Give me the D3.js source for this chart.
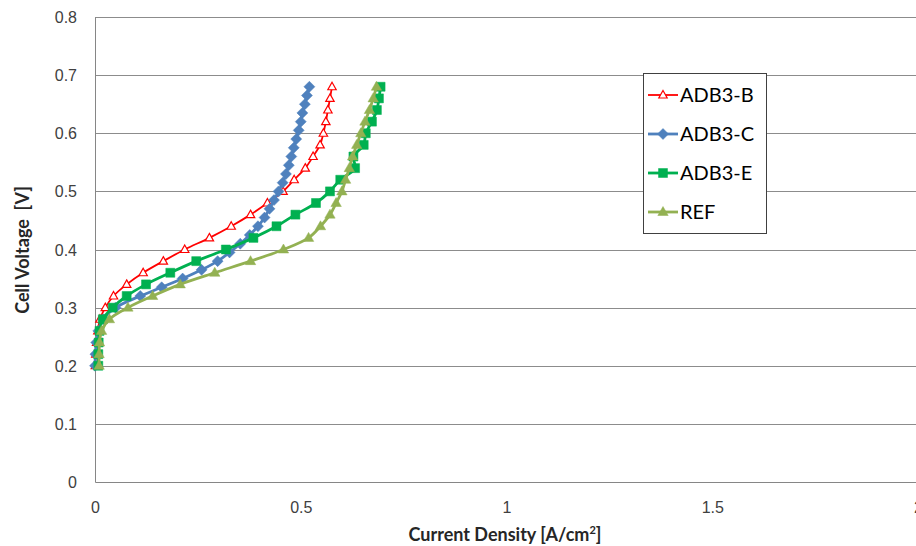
<!DOCTYPE html>
<html>
<head>
<meta charset="utf-8">
<script src="https://cdn.jsdelivr.net/npm/d3@7"></script>
<style>
  body { margin: 0; background: #fff; }
  svg { display: block; font-family: Lato, "Open Sans", sans-serif; }
</style>
</head>
<body>
<div id="chart"></div>
<script>
// polarization curves
const voltB = [0.68, 0.66, 0.64, 0.62, 0.60, 0.58, 0.56, 0.54, 0.52, 0.50, 0.48, 0.46, 0.44, 0.42, 0.40, 0.38, 0.36, 0.34, 0.32, 0.30, 0.28, 0.26, 0.24, 0.22, 0.20];
const currB = [0.576, 0.571, 0.566, 0.561, 0.555, 0.547, 0.530, 0.511, 0.484, 0.457, 0.419, 0.378, 0.331, 0.278, 0.218, 0.166, 0.117, 0.077, 0.045, 0.025, 0.012, 0.007, 0.004, 0.002, 0.001];

const voltC = [0.68, 0.665, 0.65, 0.635, 0.62, 0.605, 0.59, 0.575, 0.56, 0.545, 0.53, 0.515, 0.50, 0.485, 0.47, 0.455, 0.44, 0.425, 0.41, 0.395, 0.38, 0.365, 0.35, 0.335, 0.32, 0.30, 0.28, 0.26, 0.24, 0.22, 0.20];
const currC = [0.521, 0.515, 0.510, 0.504, 0.500, 0.495, 0.489, 0.483, 0.477, 0.471, 0.464, 0.456, 0.446, 0.435, 0.424, 0.412, 0.396, 0.376, 0.353, 0.327, 0.298, 0.259, 0.213, 0.162, 0.110, 0.050, 0.020, 0.008, 0.003, 0.001, 0.000];

const voltE = [0.68, 0.66, 0.64, 0.62, 0.60, 0.58, 0.56, 0.54, 0.52, 0.50, 0.48, 0.46, 0.44, 0.42, 0.40, 0.38, 0.36, 0.34, 0.32, 0.30, 0.28, 0.26, 0.24, 0.22, 0.20];
const currE = [0.694, 0.690, 0.685, 0.673, 0.658, 0.653, 0.628, 0.632, 0.596, 0.571, 0.537, 0.487, 0.441, 0.385, 0.318, 0.246, 0.183, 0.124, 0.077, 0.043, 0.019, 0.011, 0.009, 0.008, 0.008];

const voltRef = [0.68, 0.66, 0.64, 0.62, 0.60, 0.58, 0.56, 0.54, 0.52, 0.50, 0.48, 0.46, 0.44, 0.42, 0.40, 0.38, 0.36, 0.34, 0.32, 0.30, 0.28, 0.26, 0.24, 0.22, 0.20];
const currRef = [0.684, 0.676, 0.667, 0.656, 0.646, 0.636, 0.626, 0.618, 0.609, 0.600, 0.586, 0.571, 0.548, 0.519, 0.458, 0.378, 0.291, 0.207, 0.140, 0.080, 0.035, 0.016, 0.011, 0.010, 0.010];

const seriesNames = ["ADB3-B", "ADB3-C", "ADB3-E", "REF"];
const xTicks = [0, 0.5, 1, 1.5, 2];
const yTicks = [0, 0.1, 0.2, 0.3, 0.4, 0.5, 0.6, 0.7, 0.8];

const series = [
  {name: seriesNames[0], x: currB, y: voltB, color: "#FF0000", marker: "triangleOpen", width: 1.8},
  {name: seriesNames[1], x: currC, y: voltC, color: "#4F81BD", marker: "diamond", width: 2.8},
  {name: seriesNames[2], x: currE, y: voltE, color: "#00B050", marker: "square", width: 2.8},
  {name: seriesNames[3], x: currRef, y: voltRef, color: "#93B152", marker: "triangle", width: 2.8}
];

const width = 916, height = 546;
const margin = {top: 17, left: 95};
const plotW = 823, plotH = 465;

const svg = d3.select("#chart").append("svg")
    .attr("width", width)
    .attr("height", height);

const xScale = d3.scaleLinear().domain([0, 2]).range([0, plotW]);
const yScale = d3.scaleLinear().domain([0, 0.8]).range([plotH, 0]);

const g = svg.append("g")
    .attr("transform", "translate(" + margin.left + "," + margin.top + ")");

// gridlines
g.append("g")
    .selectAll("line")
    .data(yTicks.filter(d => d > 0))
    .enter().append("line")
    .attr("x1", 0)
    .attr("x2", plotW)
    .attr("y1", d => Math.round(yScale(d)) + 0.5)
    .attr("y2", d => Math.round(yScale(d)) + 0.5)
    .attr("stroke", "#8C8C8C")
    .attr("stroke-width", 1);

// axes, no tick marks
const yAxis = g.append("g")
    .call(d3.axisLeft(yScale).tickValues(yTicks).tickSize(0).tickPadding(18).tickFormat(d3.format("")));
yAxis.select(".domain").attr("stroke", "#868686");
yAxis.selectAll("text")
    .attr("fill", "#404040")
    .style("font-size", "16px")
    .attr("dy", "0.35em");

const xAxis = g.append("g")
    .attr("transform", "translate(0," + plotH + ")")
    .call(d3.axisBottom(xScale).tickValues(xTicks).tickSize(0).tickPadding(20).tickFormat(d3.format("")));
xAxis.select(".domain").attr("stroke", "#868686");
xAxis.selectAll("text")
    .attr("fill", "#404040")
    .style("font-size", "16px");

// axis titles
svg.append("text")
    .attr("x", 505)
    .attr("y", 541)
    .attr("text-anchor", "middle")
    .style("font-size", "18px")
    .style("font-weight", "bold")
    .attr("fill", "#262626")
    .html("Current Density [A/cm<tspan dy='-7' font-size='11px'>2</tspan><tspan dy='7'>]</tspan>");

svg.append("text")
    .attr("transform", "translate(29,250) rotate(-90)")
    .attr("text-anchor", "middle")
    .style("font-size", "18px")
    .style("font-weight", "bold")
    .attr("fill", "#262626")
    .attr("xml:space", "preserve")
    .style("white-space", "pre")
    .text("Cell Voltage  [V]");

function markerPath(type) {
  if (type === "diamond") return "M0,-5.5L5.5,0L0,5.5L-5.5,0Z";
  if (type === "square") return "M-4.5,-4.5H4.5V4.5H-4.5Z";
  if (type === "triangleOpen") return "M0,-4.5L4.2,3L-4.2,3Z";
  return "M0,-5.5L5.2,3.5L-5.2,3.5Z";
}

function drawMarker(sel, s) {
  sel.attr("d", markerPath(s.marker))
      .attr("fill", s.marker === "triangleOpen" ? "#fff" : s.color)
      .attr("stroke", s.color)
      .attr("stroke-width", s.marker === "triangleOpen" ? 1.2 : 0.5);
}

const line = d3.line()
    .x(d => xScale(d[0]))
    .y(d => yScale(d[1]))
    .curve(d3.curveCatmullRom.alpha(0.5));

series.forEach(s => {
  const pts = s.x.map((v, i) => [v, s.y[i]]);
  g.append("path")
      .datum(pts)
      .attr("fill", "none")
      .attr("stroke", s.color)
      .attr("stroke-width", s.width)
      .attr("d", line);
  g.append("g")
      .selectAll("path")
      .data(pts)
      .enter().append("path")
      .attr("transform", d => "translate(" + xScale(d[0]) + "," + yScale(d[1]) + ")")
      .call(drawMarker, s);
});

// legend
const legend = svg.append("g").attr("transform", "translate(643,73)");
legend.append("rect")
    .attr("x", 0.5)
    .attr("y", 0.5)
    .attr("width", 123)
    .attr("height", 160)
    .attr("fill", "#fff")
    .attr("stroke", "#404040");

series.forEach((s, i) => {
  const row = legend.append("g").attr("transform", "translate(0," + (22 + i * 39) + ")");
  row.append("line")
      .attr("x1", 5).attr("x2", 35)
      .attr("y1", 0).attr("y2", 0)
      .attr("stroke", s.color)
      .attr("stroke-width", s.width);
  row.append("path")
      .attr("transform", "translate(20,0)")
      .call(drawMarker, s);
  row.append("text")
      .attr("x", 37)
      .attr("y", 0)
      .attr("dy", "0.36em")
      .style("font-size", "20px")
      .attr("fill", "#000")
      .text(s.name);
});
</script>
</body>
</html>
